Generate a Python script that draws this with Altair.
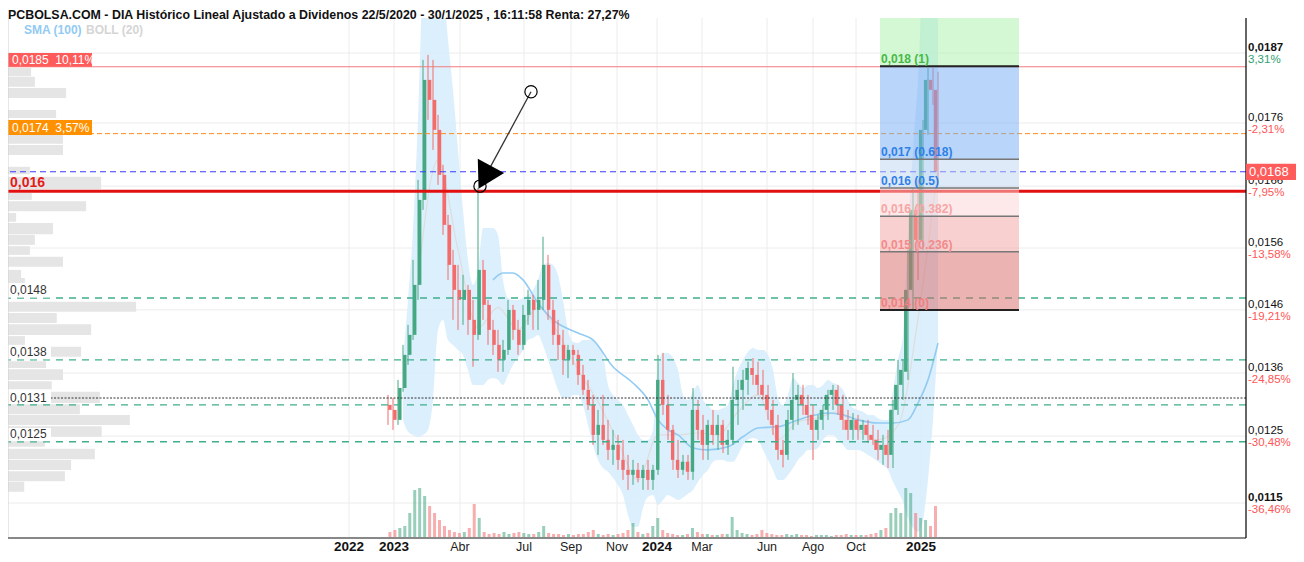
import altair as alt
import pandas as pd

# ---------------- data ----------------
semanas = list(range(-2, 109))  # semana 0 = 2 ene 2023
apertura = [.01307, .01299, .01283, .01334, .01387, .01419, .01499, .01635, .01827, .01795, .01747, .01675, .01595, .01531, .01491, .01475, .01491, .01443,
            .01419, .01523, .01467, .01427, .01403, .01379, .01395, .01459, .01427, .01403, .01451, .01475, .01459, .01475, .01531, .01459, .01419, .01403,
            .01379, .01395, .01387, .01355, .01331, .01307, .01259, .01275, .01251, .01235, .01243, .01219, .01203, .01195, .01203, .01190, .01203, .01187,
            .01203, .01347, .01307, .01267, .01219, .01203, .01216, .01200, .01299, .01267, .01243, .01275, .01259, .01275, .01243, .01251, .01315, .01331,
            .01347, .01366, .01355, .01339, .01323, .01299, .01275, .01235, .01227, .01283, .01315, .01323, .01307, .01291, .01267, .01283, .01299, .01323,
            .01331, .01307, .01283, .01267, .01283, .01267, .01275, .01259, .01251, .01235, .01243, .01227, .01299, .01339, .01360, .01491, .01619, .01571,
            .01747, .01827, .01811]
maximo = [.01323, .01318, .01347, .01403, .01435, .01539, .01667, .01859, .01867, .01859, .01771, .01691, .01611, .01555, .01531, .01515, .01499, .01475,
          .01654, .01539, .01475, .01443, .01427, .01411, .01475, .01467, .01443, .01467, .01491, .01483, .01507, .01576, .01547, .01475, .01443, .01427,
          .01403, .01403, .01395, .01371, .01347, .01323, .01299, .01323, .01283, .01267, .01259, .01251, .01227, .01219, .01214, .01211, .01219, .01211,
          .01387, .01390, .01323, .01275, .01251, .01227, .01227, .01334, .01315, .01291, .01283, .01299, .01291, .01283, .01267, .01368, .01347, .01363,
          .01376, .01382, .01376, .01363, .01339, .01315, .01291, .01251, .01299, .01358, .01339, .01339, .01323, .01307, .01291, .01307, .01331, .01339,
          .01339, .01323, .01299, .01294, .01291, .01283, .01283, .01275, .01267, .01259, .01267, .01315, .01379, .01379, .01555, .01654, .01667, .01763,
          .01846, .01846, .01840]
minimo = [.01275, .01267, .01275, .01328, .01371, .01411, .01475, .01619, .01763, .01715, .01659, .01579, .01507, .01443, .01427, .01435, .01419, .01368,
          .01411, .01443, .01403, .01387, .01360, .01360, .01387, .01411, .01387, .01395, .01435, .01427, .01427, .01459, .01443, .01403, .01379, .01355,
          .01350, .01371, .01339, .01323, .01299, .01243, .01227, .01243, .01219, .01211, .01203, .01187, .01171, .01179, .01183, .01171, .01171, .01171,
          .01195, .01291, .01251, .01203, .01190, .01195, .01187, .01187, .01251, .01219, .01219, .01243, .01235, .01230, .01227, .01243, .01275, .01299,
          .01323, .01339, .01323, .01315, .01283, .01259, .01219, .01207, .01219, .01267, .01275, .01291, .01275, .01219, .01251, .01267, .01283, .01299,
          .01291, .01267, .01251, .01251, .01251, .01251, .01246, .01243, .01219, .01211, .01206, .01206, .01291, .01315, .01347, .01459, .01507, .01555,
          .01739, .01787, .01659]
cierre = [.01299, .01283, .01334, .01387, .01419, .01499, .01635, .01827, .01795, .01747, .01675, .01595, .01531, .01491, .01475, .01491, .01443, .01419,
          .01523, .01467, .01427, .01403, .01379, .01395, .01459, .01427, .01403, .01451, .01475, .01459, .01475, .01531, .01459, .01419, .01403, .01379,
          .01395, .01387, .01355, .01331, .01307, .01259, .01275, .01251, .01235, .01243, .01219, .01203, .01195, .01203, .01190, .01203, .01187, .01203,
          .01347, .01307, .01267, .01219, .01203, .01216, .01200, .01299, .01267, .01243, .01275, .01259, .01275, .01243, .01251, .01315, .01331, .01347,
          .01366, .01355, .01339, .01323, .01299, .01275, .01235, .01227, .01283, .01315, .01323, .01307, .01291, .01267, .01283, .01299, .01323, .01331,
          .01307, .01283, .01267, .01283, .01267, .01275, .01259, .01251, .01235, .01243, .01227, .01299, .01339, .01363, .01491, .01619, .01571, .01747,
          .01827, .01811, .01680]
volumen = [6, 8, 10, 12, 25, 48, 50, 42, 32, 25, 18, 12, 8, 6, 5, 6, 10, 34, 20, 6, 4, 5, 4, 6, 4, 5, 6, 5, 4, 4, 6, 12, 5, 4, 4, 3, 4, 3, 4, 4, 6,
           8, 4, 3, 4, 3, 4, 5, 8, 15, 6, 4, 5, 12, 20, 8, 5, 4, 3, 3, 4, 10, 6, 4, 4, 3, 3, 4, 4, 21, 8, 5, 4, 3, 4, 8, 5, 4, 3, 3, 4, 3, 4, 3, 3,
           2, 3, 3, 3, 2, 3, 3, 4, 3, 3, 3, 3, 4, 5, 8, 10, 25, 30, 25, 50, 45, 25, 20, 18, 12, 32]

boll_semanas = list(range(1, 109))
boll_sup = [.01379, .01475, .01587, .01763, .01971, .01971, .01971, .01971, .01971, .01891, .01811, .01715, .01619, .01539, .01499, .01523, .01590,
            .01590, .01590, .01579, .01507, .01478, .01475, .01475, .01478, .01483, .01491, .01507, .01531, .01534, .01531, .01515, .01475, .01427,
            .01408, .01406, .01411, .01411, .01411, .01403, .01387, .01339, .01323, .01315, .01307, .01291, .01275, .01259, .01251, .01251, .01267,
            .01371, .01390, .01390, .01382, .01363, .01323, .01315, .01328, .01339, .01315, .01307, .01299, .01299, .01302, .01307, .01339, .01363,
            .01379, .01392, .01398, .01395, .01395, .01387, .01363, .01318, .01307, .01323, .01350, .01342, .01334, .01339, .01339, .01334, .01339,
            .01347, .01342, .01339, .01331, .01315, .01302, .01299, .01296, .01291, .01291, .01286, .01283, .01283, .01331, .01379, .01419, .01587,
            .01715, .01827, .01971, .01971, .01971, .01971]
boll_inf = [.01283, .01264, .01259, .01256, .01259, .01267, .01315, .01427, .01443, .01411, .01403, .01395, .01387, .01363, .01339, .01339, .01339,
            .01347, .01350, .01347, .01339, .01355, .01371, .01382, .01395, .01411, .01414, .01419, .01403, .01379, .01355, .01331, .01318, .01318,
            .01323, .01323, .01307, .01275, .01243, .01219, .01206, .01200, .01190, .01179, .01163, .01131, .01112, .01112, .01142, .01160, .01163,
            .01147, .01155, .01163, .01159, .01155, .01159, .01165, .01171, .01184, .01195, .01203, .01216, .01219, .01219, .01216, .01216, .01227,
            .01243, .01251, .01254, .01251, .01235, .01219, .01203, .01187, .01187, .01195, .01206, .01219, .01227, .01235, .01235, .01238, .01251,
            .01259, .01259, .01251, .01243, .01235, .01235, .01235, .01232, .01227, .01222, .01216, .01211, .01203, .01184, .01168, .01152, .01126,
            .01110, .01104, .01123, .01187, .01283, .01411]
boll_med_semanas = [4, 8, 12, 16, 20, 24, 28, 32, 36, 40, 44, 48, 52, 56, 60, 64, 68, 72, 76, 80, 84, 88, 92, 96, 100, 104, 108]
boll_med = [.01507, .01699, .01555, .01430, .01463, .01427, .01463, .01422, .01363, .01312, .01248, .01187, .01259, .01259, .01262, .01259,
            .01296, .01323, .01251, .01280, .01286, .01296, .01267, .01251, .01274, .01445, .01691]

sma_semanas = [19, 21, 23, 25, 28, 31, 36, 39, 43, 47, 50, 52, 54, 56, 59, 62, 66, 69, 72, 76, 79, 82, 86, 89, 92, 96, 99, 102, 104, 106, 108]
sma_100 = [.01507, .01518, .01518, .01507, .01470, .01443, .01422, .01411, .01368, .01342, .01315, .01283, .01267, .01259, .01238, .01235, .01240,
           .01256, .01270, .01272, .01280, .01288, .01294, .01291, .01283, .01278, .01278, .01283, .01310, .01347, .01406]

# volume-at-price profile (left side)
perfil_sup = [.01846, .01832, .01814, .01779, .01739, .01723, .01688, .01672, .01646, .01633, .01614, .01598, .01579, .01561, .01544, .01523, .01510,
              .01472, .01454, .01436, .01417, .01400, .01377, .01364, .01345, .01328, .01308, .01291, .01273, .01254, .01237, .01219, .01201, .01184]
perfil_inf = [.01833, .01816, .01798, .01766, .01725, .01707, .01676, .01652, .01635, .01617, .01600, .01580, .01563, .01547, .01528, .01510, .01502,
              .01456, .01438, .01419, .01403, .01384, .01366, .01347, .01332, .01310, .01292, .01275, .01256, .01240, .01220, .01203, .01185, .01168]
perfil_vol = [37, 43, 93, 77, 88, 88, 35, 149, 38, 125, 13, 72, 43, 35, 88, 21, 27, 205, 78, 133, 27, 117, 61, 88, 70, 147, 115, 195, 150, 59, 139,
              101, 91, 26]

# x-axis ticks (in weeks since 2 Jan 2023)
x_ticks = [-9.8, -0.8, 12.4, 25.2, 34.6, 43.8, 51.8, 60.8, 73.8, 83.0, 91.6, 104.6]
x_labels = ["2022", "2023", "Abr", "Jul", "Sep", "Nov", "2024", "Mar", "Jun", "Ago", "Oct", "2025"]
x_bold = [True, True, False, False, False, False, True, False, False, False, False, True]

# right axis
y_ticks = [0.0187, 0.01758, 0.01657, 0.01558, 0.01459, 0.01358, 0.01257, 0.0115]
y_labels = ["0,0187", "0,0176", "0,0166", "0,0156", "0,0146", "0,0136", "0,0125", "0,0115"]
y_pct = ["3,31%", "-2,31%", "-7,95%", "-13,58%", "-19,21%", "-24,85%", "-30,48%", "-36,46%"]
y_bold = [True, False, False, False, False, False, False, True]
precio_actual = 0.01680

# fibonacci
fib_niveles = [0.01926, 0.01849, 0.01700, 0.01654, 0.01609, 0.01552, 0.01459]
fib_colores = ["#a7f1a7", "#73abf3", "#bfd5f1", "#fbd3d3", "#f3a1a1", "#d96767"]
fib_textos = ["0,018 (1)", "0,017 (0.618)", "0,016 (0.5)", "0,016 (0.382)", "0,015 (0.236)", "0,014 (0)"]
fib_txt_col = ["#47b947", "#2f80e8", "#2f80e8", "#f7a5a5", "#f28b8b", "#f08080"]
fib_x = [96.4, 124.2]

# user lines
linea_0185 = 0.01848
linea_0174 = 0.01741
linea_azul = 0.01680
linea_roja = 0.01649
lineas_verdes = [0.01478, 0.01379, 0.01307, 0.01248]
linea_punteada = 0.01318

# arrow annotation
flecha_sem = [26.6, 16.4]
flecha_val = [0.01808, 0.01657]
punta_sem = [17.35]
punta_val = [0.01671]

UP, DOWN = "#46a882", "#f26c6c"
W, H = 1238, 520
X_DOM = [-78, 169.6]
Y_DOM = [0.01094, 0.01926]
NARROW = "Liberation Sans Narrow, Arial Narrow, Liberation Sans, Arial"
SANS = "Liberation Sans, Arial, sans-serif"

xs = alt.Scale(domain=X_DOM, nice=False, zero=False)
ys = alt.Scale(domain=Y_DOM, nice=False, zero=False)


def X(f):
    return alt.X(f, type="quantitative", scale=xs, axis=None)


def Y(f):
    return alt.Y(f, type="quantitative", scale=ys, axis=None)


velas = pd.DataFrame({"semana": semanas, "o": apertura, "h": maximo, "l": minimo, "c": cierre, "vol": volumen})
velas["dir"] = ["sube" if c >= o else "baja" for o, c in zip(apertura, cierre)]
color = alt.Color("dir:N", scale=alt.Scale(domain=["sube", "baja"], range=[UP, DOWN]), legend=None)

layers = []

# grid
layers.append(alt.Chart(pd.DataFrame({"p": x_ticks})).mark_rule(color="#ececec", strokeWidth=1).encode(x=X("p")))
layers.append(alt.Chart(pd.DataFrame({"v": y_ticks})).mark_rule(color="#ececec", strokeWidth=1).encode(y=Y("v")))

# volume profile
perfil = pd.DataFrame({"a": perfil_sup, "b": perfil_inf, "vol": perfil_vol, "cero": [0] * len(perfil_vol)})
layers.append(alt.Chart(perfil).mark_rect(color="#e5e5e5").encode(
    x=alt.X("cero:Q", scale=alt.Scale(domain=[0, 1981], nice=False, zero=False), axis=None), x2="vol",
    y=Y("a"), y2="b"))

# bollinger
boll = pd.DataFrame({"semana": boll_semanas, "sup": boll_sup, "inf": boll_inf})
layers.append(alt.Chart(boll).mark_area(color="#d6ecfb", opacity=0.85, clip=True, interpolate="monotone").encode(
    x=X("semana"), y=Y("sup"), y2="inf"))
layers.append(alt.Chart(pd.DataFrame({"semana": boll_med_semanas, "v": boll_med})).mark_line(
    color="#dddddd", strokeWidth=1.2, clip=True, interpolate="monotone").encode(x=X("semana"), y=Y("v")))
layers.append(alt.Chart(pd.DataFrame({"semana": sma_semanas, "v": sma_100})).mark_line(
    color="#92cbf3", strokeWidth=1.6, interpolate="monotone").encode(x=X("semana"), y=Y("v")))

# volume bars
layers.append(alt.Chart(velas).mark_bar(size=3, opacity=0.55).encode(
    x=X("semana"), y=alt.Y("vol:Q", scale=alt.Scale(domain=[0, 520], nice=False), axis=None), color=color))

# candles
layers.append(alt.Chart(velas).mark_rule(strokeWidth=1).encode(x=X("semana"), y=Y("l"), y2="h", color=color))
layers.append(alt.Chart(velas).mark_bar(size=3.4).encode(x=X("semana"), y=Y("o"), y2="c", color=color))

# horizontal user lines
layers.append(alt.Chart(pd.DataFrame({"v": [linea_0185]})).mark_rule(color="#f37b7b", strokeWidth=1).encode(y=Y("v")))
layers.append(alt.Chart(pd.DataFrame({"v": [linea_0174]})).mark_rule(color="#ff8c1a", strokeWidth=1, strokeDash=[5, 3]).encode(y=Y("v")))
layers.append(alt.Chart(pd.DataFrame({"v": lineas_verdes})).mark_rule(color="#3fae8c", strokeWidth=1.3, strokeDash=[7, 6]).encode(y=Y("v")))
layers.append(alt.Chart(pd.DataFrame({"v": [linea_punteada]})).mark_rule(color="#333333", strokeWidth=1, strokeDash=[2, 1.5]).encode(y=Y("v")))
layers.append(alt.Chart(pd.DataFrame({"v": [linea_azul]})).mark_rule(color="#3b3bff", strokeWidth=1.2, strokeDash=[6, 4]).encode(y=Y("v")))
layers.append(alt.Chart(pd.DataFrame({"v": [linea_roja]})).mark_rule(color="#e31010", strokeWidth=3).encode(y=Y("v")))

# fibonacci zones
fib = pd.DataFrame({"x1": [fib_x[0]] * 6, "x2": [fib_x[1]] * 6, "a": fib_niveles[:-1], "b": fib_niveles[1:], "col": fib_colores})
layers.append(alt.Chart(fib).mark_rect(opacity=0.5).encode(
    x=X("x1"), x2="x2", y=Y("a"), y2="b", color=alt.Color("col:N", scale=None)))
fl = pd.DataFrame({"x1": [fib_x[0]] * 6, "x2": [fib_x[1]] * 6, "v": fib_niveles[1:], "t": fib_textos, "col": fib_txt_col})
layers.append(alt.Chart(fl.iloc[[1, 2, 3, 4]]).mark_rule(color="#777777", strokeWidth=1.5).encode(x=X("x1"), x2="x2", y=Y("v")))
layers.append(alt.Chart(fl.iloc[[0, 5]]).mark_rule(color="#222222", strokeWidth=2).encode(x=X("x1"), x2="x2", y=Y("v")))
layers.append(alt.Chart(fl).mark_text(align="left", baseline="alphabetic", dy=-3, dx=1, fontSize=12, fontWeight="bold", font=SANS).encode(
    x=X("x1"), y=Y("v"), text="t", color=alt.Color("col:N", scale=None)))

# left label boxes
cajas = pd.DataFrame({"x1": [-78, -78], "x2": [-61.2, -61.2], "a": [0.01870, 0.01763], "b": [0.01848, 0.01739],
                      "col": ["#ff5b5b", "#ff9100"], "t": ["0,0185\u00a0\u00a010,11%", "0,0174\u00a0\u00a03,57%"]})
layers.append(alt.Chart(cajas).mark_rect().encode(x=X("x1"), x2="x2", y=Y("a"), y2="b", color=alt.Color("col:N", scale=None)))
layers.append(alt.Chart(cajas).mark_text(align="left", baseline="middle", dx=4, dy=-7, fontSize=12, color="white", font=SANS).encode(
    x=X("x1"), y=Y("b"), text="t"))
blancas = pd.DataFrame({"x1": [-78] * 4, "x2": [-69.4] * 4, "a": [0.01499, 0.01400, 0.01331, 0.01270], "b": [0.01479, 0.01380, 0.01310, 0.01249]})
layers.append(alt.Chart(blancas).mark_rect(color="white").encode(x=X("x1"), x2="x2", y=Y("a"), y2="b"))
etiquetas = pd.DataFrame({"x": [-78] * 4, "v": [0.01478, 0.01379, 0.01318, 0.01248], "dy": [-8, -8, 0, -8],
                          "t": ["0,0148", "0,0138", "0,0131", "0,0125"]})
for _, r in etiquetas.iterrows():
    layers.append(alt.Chart(etiquetas[etiquetas.t == r.t]).mark_text(
        align="left", baseline="middle", dx=2, dy=int(r.dy), fontSize=12, color="#333333", font=SANS).encode(x=X("x"), y=Y("v"), text="t"))
layers.append(alt.Chart(pd.DataFrame({"x": [-78], "v": [linea_roja], "t": ["0,016"]})).mark_text(
    align="left", baseline="alphabetic", dx=2, dy=-4, fontSize=14, fontWeight="bold", color="#e31b1b", font=SANS).encode(
    x=X("x"), y=Y("v"), text="t"))

# arrow annotation
layers.append(alt.Chart(pd.DataFrame({"s": flecha_sem, "v": flecha_val})).mark_line(color="#333333", strokeWidth=1.3).encode(
    x=X("s"), y=Y("v")))
layers.append(alt.Chart(pd.DataFrame({"s": punta_sem, "v": punta_val})).mark_point(
    shape="triangle-up", size=900, filled=True, color="black", opacity=1, angle=208.5).encode(x=X("s"), y=Y("v")))
layers.append(alt.Chart(pd.DataFrame({"s": flecha_sem, "v": flecha_val})).mark_point(
    shape="circle", size=150, filled=False, color="black", strokeWidth=1.2, opacity=1).encode(x=X("s"), y=Y("v")))

# frame lines
layers.append(alt.Chart(pd.DataFrame({"k": [0]})).mark_rule(color="#d0d0d0", strokeWidth=1).encode(
    x=alt.value(0), y=alt.value(0), y2=alt.value(H)))
layers.append(alt.Chart(pd.DataFrame({"k": [0]})).mark_rule(color="#888888", strokeWidth=2).encode(
    x=alt.value(0), x2=alt.value(W), y=alt.value(H)))
layers.append(alt.Chart(pd.DataFrame({"k": [0]})).mark_rule(color="#000000", strokeWidth=1.2).encode(
    x=alt.value(W), y=alt.value(0), y2=alt.value(H)))

# right axis labels
ry = pd.DataFrame({"v": y_ticks, "t": y_labels, "p": y_pct, "b": y_bold,
                   "pc": ["#2f9e6f" if s[0] != "-" else "#ff5555" for s in y_pct]})
layers.append(alt.Chart(ry[ry.b]).mark_text(align="left", baseline="alphabetic", dy=-2, fontSize=11.5, fontWeight="bold",
                                             color="#111111", font=SANS).encode(x=alt.value(W + 2), y=Y("v"), text="t"))
layers.append(alt.Chart(ry[~ry.b]).mark_text(align="left", baseline="alphabetic", dy=-2, fontSize=11.5,
                                              color="#111111", font=SANS).encode(x=alt.value(W + 2), y=Y("v"), text="t"))
layers.append(alt.Chart(ry).mark_text(align="left", baseline="alphabetic", dy=10, fontSize=11.5, font=SANS).encode(
    x=alt.value(W + 2), y=Y("v"), text="p", color=alt.Color("pc:N", scale=None)))
pa = pd.DataFrame({"a": [precio_actual + 0.00013], "b": [precio_actual - 0.00013], "v": [precio_actual], "t": ["0,0168"]})
layers.append(alt.Chart(pa).mark_rect(color="#ff5b5b").encode(x=alt.value(W), x2=alt.value(W + 54), y=Y("a"), y2="b"))
layers.append(alt.Chart(pa).mark_text(align="left", baseline="middle", fontSize=13, color="white", font=SANS).encode(
    x=alt.value(W + 3), y=Y("v"), text="t"))

# x axis labels
xl = pd.DataFrame({"p": x_ticks, "t": x_labels, "b": x_bold})
layers.append(alt.Chart(xl[xl.b]).mark_text(baseline="middle", fontSize=13.5, fontWeight="bold", color="#111111", font=NARROW).encode(
    x=X("p"), y=alt.value(H + 9), text="t"))
layers.append(alt.Chart(xl[~xl.b]).mark_text(baseline="middle", fontSize=12.5, color="#222222", font=NARROW).encode(
    x=X("p"), y=alt.value(H + 9), text="t"))

# title & indicator legend
titulo = "PCBOLSA.COM - DIA Histórico Lineal Ajustado a Dividenos 22/5/2020 - 30/1/2025 , 16:11:58 Renta: 27,27%"
layers.append(alt.Chart(pd.DataFrame({"t": [titulo]})).mark_text(
    align="left", baseline="top", fontSize=12.4, fontWeight="bold", color="#111111", font=NARROW).encode(
    x=alt.value(0), y=alt.value(-9), text="t"))
layers.append(alt.Chart(pd.DataFrame({"t": ["SMA (100)"]})).mark_text(
    align="left", baseline="middle", fontSize=12, fontWeight="bold", color="#92cbf3", font=NARROW).encode(
    x=alt.value(16), y=alt.value(12), text="t"))
layers.append(alt.Chart(pd.DataFrame({"t": ["BOLL (20)"]})).mark_text(
    align="left", baseline="middle", fontSize=12, fontWeight="bold", color="#d5d5d5", font=NARROW).encode(
    x=alt.value(78), y=alt.value(12), text="t"))

chart = alt.layer(*layers).resolve_scale(x="independent", y="independent", color="independent").properties(
    width=W, height=H,
    padding={"left": 0, "top": 10, "right": 50, "bottom": 16},
    autosize=alt.AutoSizeParams(type="none"),
    background="white",
).configure_view(stroke=None)

chart.save("out.html", embed_options={"renderer": "svg", "actions": False})
